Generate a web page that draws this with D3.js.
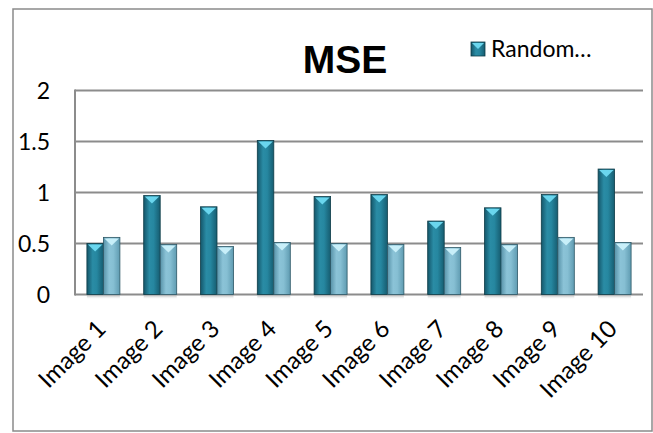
<!DOCTYPE html>
<html>
<head>
<meta charset="utf-8">
<script src="https://cdn.jsdelivr.net/npm/d3@7/dist/d3.min.js"></script>
<style>
  html, body { margin: 0; padding: 0; background: #fff; }
  svg { display: block; }
</style>
</head>
<body>
<script>
// Chart data
const categories = ["Image 1", "Image 2", "Image 3", "Image 4", "Image 5",
                    "Image 6", "Image 7", "Image 8", "Image 9", "Image 10"];
const randomValues = [0.50, 0.97, 0.86, 1.51, 0.96, 0.98, 0.72, 0.85, 0.98, 1.23];
const secondValues = [0.56, 0.49, 0.47, 0.51, 0.50, 0.49, 0.46, 0.49, 0.56, 0.51];
const legendLabels = ["Random…"];
const yTicks = [0, 0.5, 1, 1.5, 2];
const chartTitle = "MSE";

const W = 653, H = 433;
const plot = { left: 75, right: 643, top: 90.5, bottom: 294.5 };

const svg = d3.select("body").append("svg")
  .attr("width", W).attr("height", H);

const defs = svg.append("defs");
function hGrad(id, stops) {
  const g = defs.append("linearGradient").attr("id", id)
    .attr("x1", "0%").attr("x2", "100%").attr("y1", "0%").attr("y2", "0%");
  stops.forEach(([o, c]) => g.append("stop").attr("offset", o).attr("stop-color", c));
}
hGrad("gDark", [["0%", "#14566a"], ["35%", "#2a8ca5"], ["60%", "#2687a0"], ["100%", "#165c70"]]);
hGrad("gLight", [["0%", "#5792a8"], ["35%", "#8bc3d7"], ["60%", "#86bfd3"], ["100%", "#5f9bb1"]]);
const sh = defs.append("linearGradient").attr("id", "gShadow")
  .attr("x1", "0%").attr("x2", "0%").attr("y1", "0%").attr("y2", "100%");
sh.append("stop").attr("offset", "0%").attr("stop-color", "#9a9a9a").attr("stop-opacity", 0.6);
sh.append("stop").attr("offset", "100%").attr("stop-color", "#ffffff").attr("stop-opacity", 0);

// Outer frame
svg.append("rect")
  .attr("x", 13).attr("y", 9).attr("width", 639).attr("height", 422)
  .attr("fill", "#fff").attr("stroke", "#8a8a8a").attr("stroke-width", 1.5);

// Scales
const x = d3.scaleBand().domain(categories).range([plot.left, plot.right]).padding(0);
const y = d3.scaleLinear().domain([0, 2]).range([plot.bottom, plot.top]);
const pairW = 33;
const inner = d3.scaleBand().domain([0, 1]).range([0, pairW]).padding(0);

// Gridlines
svg.append("g").selectAll("line").data(yTicks).join("line")
  .attr("x1", plot.left).attr("x2", plot.right)
  .attr("y1", d => y(d)).attr("y2", d => y(d))
  .attr("stroke", "#8c8c8c").attr("stroke-width", 2);

// Vertical axis line
svg.append("line")
  .attr("x1", plot.left).attr("x2", plot.left)
  .attr("y1", y(2) - 1).attr("y2", y(0) + 1)
  .attr("stroke", "#8c8c8c").attr("stroke-width", 2);

// Y tick labels
svg.append("g").selectAll("text").data(yTicks).join("text")
  .attr("x", 50).attr("y", d => y(d))
  .attr("dy", "0.36em")
  .attr("text-anchor", "end")
  .attr("font-family", "Lato, 'Open Sans', sans-serif")
  .attr("font-size", 23)
  .attr("fill", "#000")
  .text(d => d3.format("")(d));

// Bars
const series = [
  { values: randomValues, fill: "url(#gDark)", bevel: "#6ad6ee", stroke: "#0e3c48" },
  { values: secondValues, fill: "url(#gLight)", bevel: "#c8eff9", stroke: "#2d5866" }
];

const groups = svg.append("g").selectAll("g").data(categories).join("g")
  .attr("transform", d => `translate(${x(d) + (x.bandwidth() - pairW) / 2},0)`);

// soft shadow under each pair
groups.append("rect")
  .attr("x", 0).attr("y", y(0) + 1).attr("width", pairW).attr("height", 4)
  .attr("fill", "url(#gShadow)");

series.forEach((s, si) => {
  const bw = inner.bandwidth();
  groups.append("rect")
    .attr("x", inner(si))
    .attr("y", (d, i) => y(s.values[i]))
    .attr("width", bw)
    .attr("height", (d, i) => y(0) - y(s.values[i]))
    .attr("fill", s.fill)
    .attr("stroke", s.stroke).attr("stroke-width", 0.8);
  groups.append("path")
    .attr("d", (d, i) => {
      const x0 = inner(si) + 1, x1 = inner(si) + bw - 1, yt = y(s.values[i]) + 1;
      return `M${x0},${yt}L${x1},${yt}L${(x0 + x1) / 2},${yt + 7}Z`;
    })
    .attr("fill", s.bevel);
});

// X tick labels, rotated
svg.append("g").selectAll("text").data(categories).join("text")
  .attr("transform", d => `translate(${x(d) + x.bandwidth() / 2 + 4},${plot.bottom + 36}) rotate(-45)`)
  .attr("text-anchor", "end")
  .attr("font-family", "Lato, 'Open Sans', sans-serif")
  .attr("font-size", 24)
  .attr("fill", "#000")
  .text(d => d);

// Title
svg.append("text")
  .attr("x", 345).attr("y", 73)
  .attr("text-anchor", "middle")
  .attr("font-family", "'Liberation Sans', Arial, sans-serif")
  .attr("font-weight", "bold")
  .attr("font-size", 39)
  .attr("fill", "#000")
  .text(chartTitle);

// Legend
const lg = svg.append("g").attr("transform", "translate(471,42)");
lg.append("rect").attr("x", 0).attr("y", 0).attr("width", 14).attr("height", 14)
  .attr("fill", "url(#gDark)").attr("stroke", "#0e3c48").attr("stroke-width", 0.8);
lg.append("path").attr("d", "M1,1L13,1L7,7Z").attr("fill", "#6ad6ee");
lg.append("text").attr("x", 20).attr("y", 7).attr("dy", "0.36em")
  .attr("font-family", "Lato, 'Open Sans', sans-serif")
  .attr("font-size", 23).attr("fill", "#000")
  .text(legendLabels[0]);
</script>
</body>
</html>
